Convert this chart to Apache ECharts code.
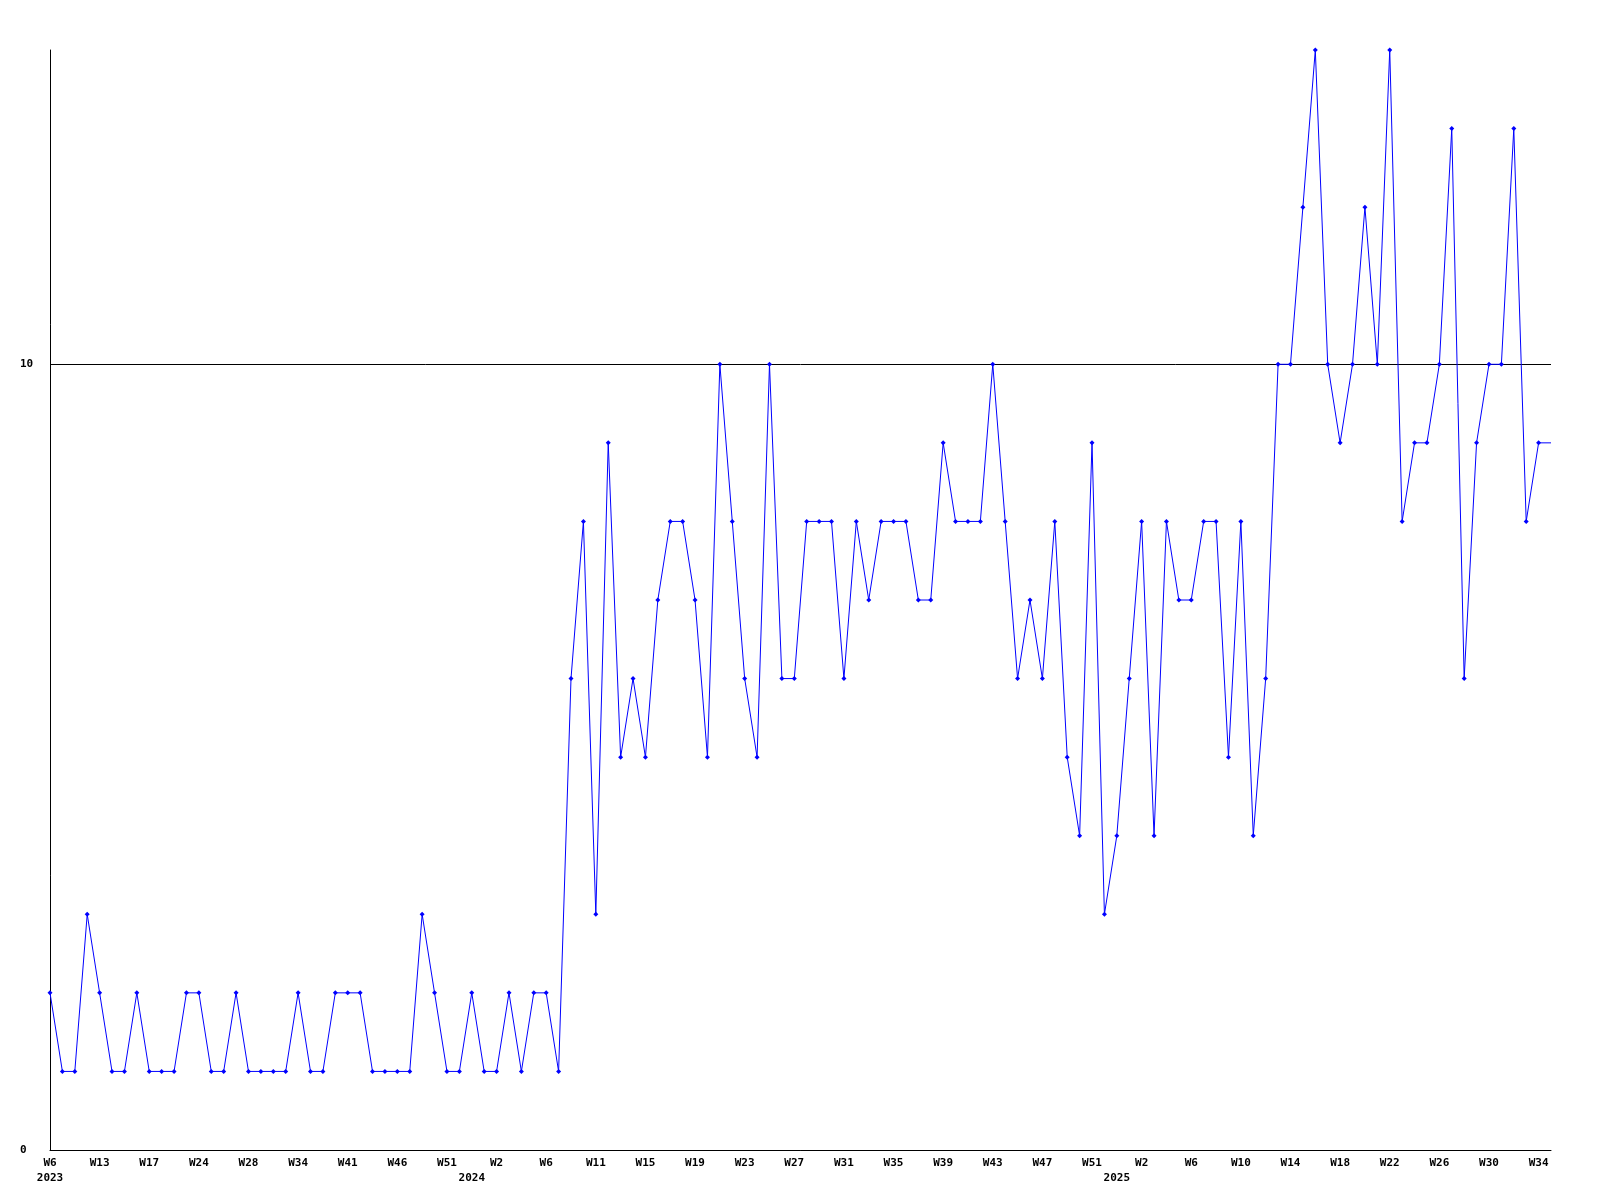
<!DOCTYPE html>
<html>
<head>
<meta charset="utf-8">
<script src="https://cdn.jsdelivr.net/npm/echarts@6/dist/echarts.min.js"></script>
<style>
html,body{margin:0;padding:0;background:#fff;}
#chart{width:1600px;height:1200px;}
</style>
</head>
<body>
<div id="chart"></div>
<script>
// Week tick labels, shown every 4th point
const weekTicks = ['W6','W13','W17','W24','W28','W34','W41','W46','W51','W2','W6',
  'W11','W15','W19','W23','W27','W31','W35','W39','W43','W47','W51','W2','W6',
  'W10','W14','W18','W22','W26','W30','W34'];
const tickEvery = 4;
// Year labels and the point index where each appears
const yearLabels = ['2023','2024','2025'];
const yearIndex = [0, 34, 86];
// Values (the last value continues the line to the right edge, no marker)
const values = [
  2,1,1,3,2,1,1,2,1,1,1,2,2,1,1,2,1,1,1,1,2,1,1,2,2,2,1,1,1,1,3,2,1,1,2,1,1,2,1,2,2,1,
  6,8,3,9,5,6,5,7,8,8,7,5,10,8,6,5,10,6,6,8,8,8,6,8,7,8,8,8,7,7,9,8,8,8,10,8,6,7,6,8,5,4,
  9,3,4,6,8,4,8,7,7,8,8,5,8,4,6,10,10,12,14,10,9,10,12,10,14,8,9,9,10,13,6,9,10,10,13,8,9,
  9
];
const yTicks = [0, 10];

const n = values.length;
const cats = values.map((v, i) => (i % tickEvery === 0 && weekTicks[i / tickEvery] !== undefined) ? weekTicks[i / tickEvery] : '');
const yearCats = values.map(() => '');
yearIndex.forEach((idx, k) => { yearCats[idx] = yearLabels[k]; });
const seriesData = values.map((v, i) => i === n - 1 ? { value: v, symbol: 'none' } : v);

const font = { fontFamily: 'DejaVu Sans Mono', fontSize: 11, fontWeight: 'bold', color: '#000' };

const chart = echarts.init(document.getElementById('chart'), null, { renderer: 'canvas' });
chart.setOption({
  animation: false,
  backgroundColor: '#fff',
  grid: { left: 50, right: 49, top: 50, bottom: 50, containLabel: false },
  xAxis: [{
    type: 'category',
    data: cats,
    boundaryGap: false,
    position: 'bottom',
    axisLine: { show: true, lineStyle: { color: '#000', width: 1 } },
    axisTick: { show: false },
    splitLine: { show: false },
    axisLabel: Object.assign({ interval: 0, margin: 8 }, font)
  }, {
    type: 'category',
    data: yearCats,
    boundaryGap: false,
    position: 'bottom',
    axisLine: { show: false },
    axisTick: { show: false },
    splitLine: { show: false },
    axisLabel: Object.assign({ interval: 0, margin: 23 }, font)
  }],
  yAxis: {
    type: 'value',
    min: 0,
    max: 14,
    interval: 10,
    axisLine: { show: true, lineStyle: { color: '#000', width: 1 } },
    axisTick: { show: false },
    splitLine: { show: true, showMaxLine: false, lineStyle: { color: '#000', width: 1 } },
    axisLabel: Object.assign({
      margin: 30, align: 'left',
      formatter: (v) => yTicks.indexOf(v) >= 0 ? String(v) : ''
    }, font)
  },
  series: [{
    type: 'line',
    xAxisIndex: 0,
    data: seriesData,
    symbol: 'diamond',
    symbolSize: 5,
    showAllSymbol: true,
    lineStyle: { color: '#0000ff', width: 1 },
    itemStyle: { color: '#0000ff' },
    emphasis: { disabled: true }
  }]
});
</script>
</body>
</html>
